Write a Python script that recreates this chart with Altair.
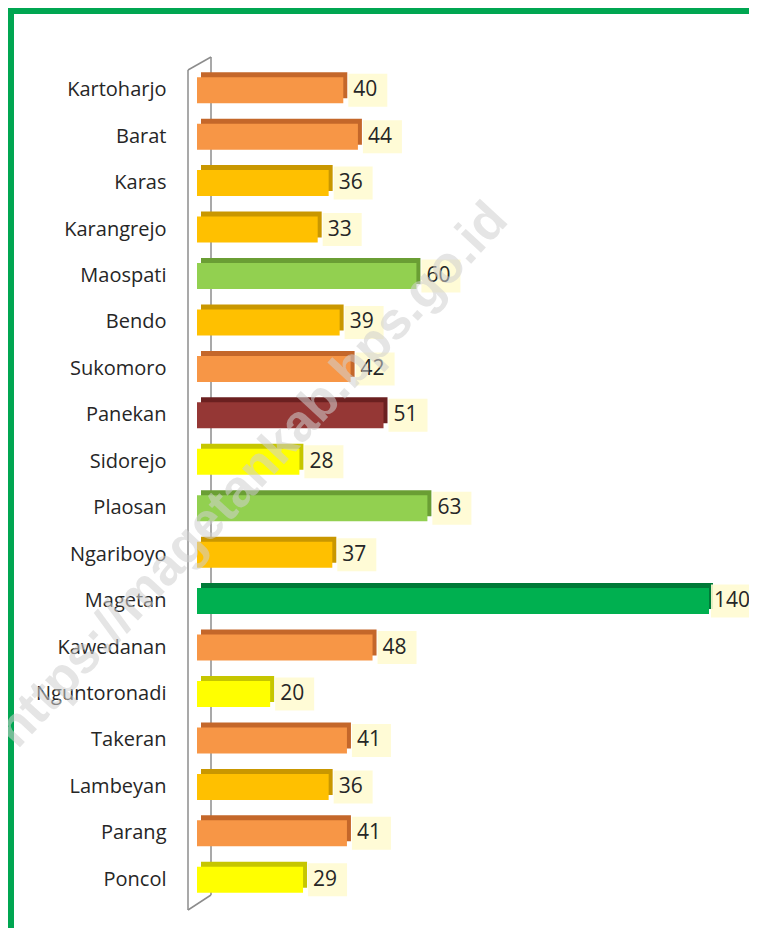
import altair as alt
import pandas as pd

kecamatan = ["Kartoharjo", "Barat", "Karas", "Karangrejo", "Maospati", "Bendo",
             "Sukomoro", "Panekan", "Sidorejo", "Plaosan", "Ngariboyo", "Magetan",
             "Kawedanan", "Nguntoronadi", "Takeran", "Lambeyan", "Parang", "Poncol"]
nilai = [40, 44, 36, 33, 60, 39, 42, 51, 28, 63, 37, 140, 48, 20, 41, 36, 41, 29]
warna = ["#F79646", "#F79646", "#FFC000", "#FFC000", "#92D050", "#FFC000",
         "#F79646", "#953735", "#FFFF00", "#92D050", "#FFC000", "#00B050",
         "#F79646", "#FFFF00", "#F79646", "#FFC000", "#F79646", "#FFFF00"]
warna_sisi = ["#C4672A", "#C4672A", "#C99700", "#C99700", "#6A9E34", "#C99700",
              "#C4672A", "#6B2020", "#C6C600", "#6A9E34", "#C99700", "#007A38",
              "#C4672A", "#C6C600", "#C4672A", "#C99700", "#C4672A", "#C6C600"]
watermark = "https://magetankab.bps.go.id"

df = pd.DataFrame({"kec": kecamatan, "nilai": nilai, "warna": warna, "sisi": warna_sisi})

W, H = 512, 836
FONT = "Open Sans"

base = alt.Chart(df)
y_enc = alt.Y("kec:N", sort=kecamatan, title=None,
              scale=alt.Scale(paddingInner=0, paddingOuter=0),
              axis=alt.Axis(domain=False, ticks=False, labelFont=FONT, labelFontSize=20,
                            labelColor="#262626", labelPadding=31, grid=False))
x_scale = alt.Scale(domain=[0, 140], nice=False, zero=True)
x_enc = alt.X("nilai:Q", scale=x_scale, axis=None, title=None)

gray = "#8C8C8C"
one = pd.DataFrame({"a": [0]})
def rule(x1, y1, x2, y2):
    return alt.Chart(one).mark_rule(color=gray, strokeWidth=1.5).encode(
        x=alt.value(x1), y=alt.value(y1), x2=alt.value(x2), y2=alt.value(y2))

frame = alt.Chart(one).mark_rect(fillOpacity=0, stroke="#00A651", strokeWidth=6).encode(
    x=alt.value(-186), y=alt.value(-56), x2=alt.value(580), y2=alt.value(900))

wall = [rule(14, -10, 14, 828), rule(-9, 3, -9, 843), rule(-9, 3, 14, -10), rule(-9, 843, 14, 828)]

side = base.mark_bar(size=26, xOffset=4, x2Offset=4, yOffset=-5, y2Offset=-5).encode(
    x=x_enc, y=y_enc, color=alt.Color("sisi:N", scale=None))
front = base.mark_bar(size=26).encode(
    x=x_enc, y=y_enc, color=alt.Color("warna:N", scale=None))

box_small = base.transform_filter("datum.nilai < 100").mark_bar(
    size=33, xOffset=5, x2Offset=44, color="#FFFBD2", opacity=0.9).encode(
    x=x_enc, x2=alt.X2("nilai:Q"), y=y_enc)
box_big = base.transform_filter("datum.nilai >= 100").mark_bar(
    size=33, xOffset=2, x2Offset=50, color="#FFFBD2", opacity=0.9).encode(
    x=x_enc, x2=alt.X2("nilai:Q"), y=y_enc)

labels_small = base.transform_filter("datum.nilai < 100").mark_text(
    align="left", baseline="middle", dx=10, font=FONT, fontSize=21,
    color="#262626").encode(x=x_enc, y=y_enc, text="nilai:Q")
labels_big = base.transform_filter("datum.nilai >= 100").mark_text(
    align="left", baseline="middle", dx=5, font=FONT, fontSize=21,
    color="#262626").encode(x=x_enc, y=y_enc, text="nilai:Q")

wm = alt.Chart(pd.DataFrame({"t": [watermark]})).mark_text(
    font="Liberation Sans", fontSize=52, fontWeight="bold", angle=313,
    color="#D0D0D0", opacity=0.55, align="center", baseline="middle").encode(
    text="t:N", x=alt.value(55), y=alt.value(408))

chart = alt.layer(frame, *wall, side, front, box_small, box_big,
                  labels_small, labels_big, wm).properties(
    width=W, height=H,
    autosize=alt.AutoSizeParams(type="none"),
    padding={"left": 189, "top": 59, "right": 40, "bottom": 25},
    background="#FFFFFF",
).configure_view(stroke=None)

chart.save("out.html", embed_options={"renderer": "svg", "actions": False})
